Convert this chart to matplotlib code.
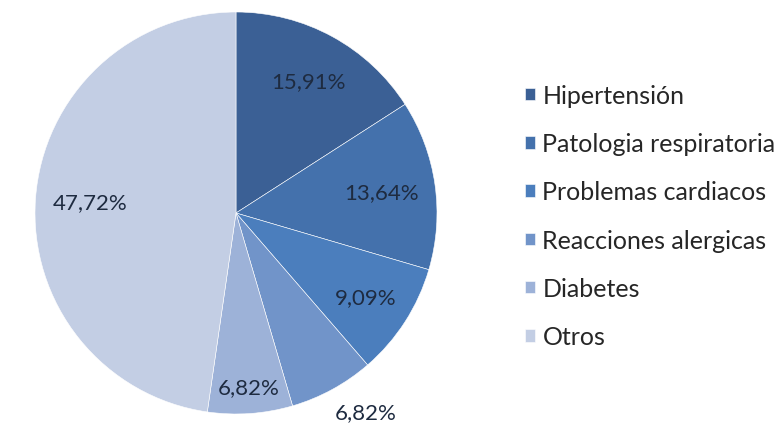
import matplotlib.pyplot as plt
import numpy as np

# datos del grafico
categorias = ["Hipertensión", "Patologia respiratoria", "Problemas cardiacos",
              "Reacciones alergicas", "Diabetes", "Otros"]
valores = [15.91, 13.64, 9.09, 6.82, 6.82, 47.72]
colores = ["#3B6095", "#4471AC", "#4B7EBD", "#7194C9", "#9DB2D8", "#C3CEE4"]

# distancia de cada etiqueta al centro (fraccion del radio) y giro en grados
dist_etiquetas = [0.75, 0.73, 0.77, 1.18, 0.87, 0.73]
giro_etiquetas = [0, 0, 0, 4.5, 0, 0]

plt.rcParams['font.family'] = ['Lato', 'DejaVu Sans']

fig = plt.figure(figsize=(7.76, 4.27), dpi=100)
cx, cy, r = 236, 214, 201
ax = fig.add_axes([(cx - r) / 776, (427 - cy - r) / 427, 2 * r / 776, 2 * r / 427])

wedges, texts, autotexts = ax.pie(
    valores, colors=colores, startangle=90, counterclock=False,
    autopct=lambda p: f"{p:.2f}".replace(".", ",") + "%",
    pctdistance=0.75, radius=1,
    wedgeprops=dict(edgecolor="white", linewidth=0.4),
    textprops=dict(color="#1E2B40", fontsize=16))

# mover cada etiqueta a su sitio
ang = 90
for i, t in enumerate(autotexts):
    theta = ang - valores[i] / 100 * 360 / 2 + giro_etiquetas[i]
    ang -= valores[i] / 100 * 360
    d = dist_etiquetas[i]
    t.set_position((d * np.cos(np.radians(theta)), d * np.sin(np.radians(theta))))

ax.set_xlim(-1, 1)
ax.set_ylim(-1, 1)
ax.set_aspect("equal")

fig.legend(wedges, categorias, loc="upper left", bbox_to_anchor=(525 / 776, 1 - 85 / 427),
           frameon=False, fontsize=18, handlelength=0.4, handleheight=0.4,
           handletextpad=0.3, labelspacing=1.01, borderaxespad=0, borderpad=0,
           labelcolor="#262626")

fig.savefig("out.png", dpi=100)
